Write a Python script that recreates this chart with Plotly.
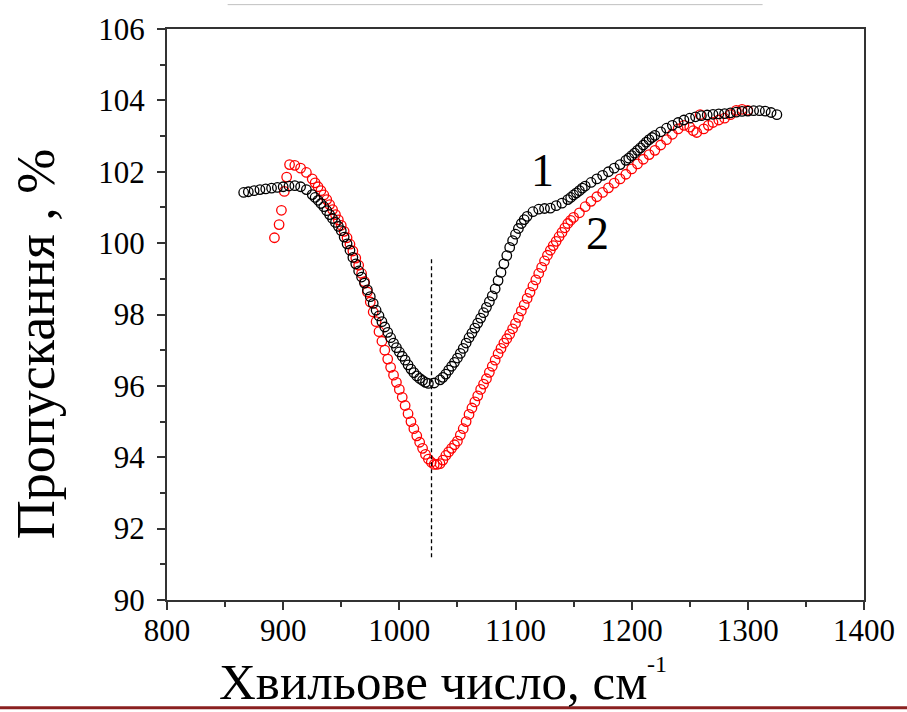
import plotly.graph_objects as go

# Series 1 (black)
bx = [866,870,875,880,885,890,895,900,905,910,
      915,920,925,927.5,930,932.5,935,937.5,940,942.5,
      945,947.5,950,952.5,955,957.5,960,962.5,965,967.5,
      970,972.5,975,977.5,980,982.5,985,987.5,990,992.5,
      995,997.5,1000,1002.5,1005,1007.5,1010,1012.5,1015,1017.5,
      1020,1022.5,1025,1030,1035,1037.5,1040,1042.5,1045,1047.5,
      1050,1052.5,1055,1057.5,1060,1062.5,1065,1067.5,1070,1072.5,
      1075,1077.5,1080,1082.5,1085,1087.5,1090,1092.5,1095,1097.5,
      1100,1102.5,1105,1107.5,1110,1115,1120,1125,1130,1135,
      1140,1145,1147.5,1150,1152.5,1155,1157.5,1160,1165,1170,
      1175,1180,1185,1190,1195,1197.5,1200,1202.5,1205,1207.5,
      1210,1212.5,1215,1217.5,1220,1225,1230,1235,1240,1245,
      1250,1255,1260,1265,1270,1275,1280,1285,1290,1295,
      1300,1305,1310,1315,1320,1325]
by = [101.42,101.44,101.47,101.50,101.52,101.54,101.56,101.58,101.60,101.61,
      101.58,101.50,101.36,101.28,101.20,101.11,101.02,100.91,100.80,100.69,
      100.58,100.47,100.35,100.17,99.98,99.80,99.60,99.42,99.22,99.05,
      98.88,98.69,98.50,98.31,98.12,97.96,97.80,97.65,97.50,97.35,
      97.20,97.07,96.95,96.83,96.72,96.59,96.47,96.37,96.28,96.21,
      96.15,96.10,96.07,96.08,96.17,96.24,96.33,96.44,96.55,96.66,
      96.78,96.91,97.05,97.20,97.35,97.48,97.62,97.76,97.90,98.05,
      98.20,98.36,98.52,98.72,98.95,99.18,99.42,99.65,99.88,100.07,
      100.25,100.41,100.55,100.66,100.75,100.88,100.95,100.97,100.98,101.05,
      101.12,101.22,101.28,101.35,101.41,101.47,101.54,101.60,101.70,101.80,
      101.90,102.00,102.10,102.20,102.32,102.38,102.45,102.52,102.60,102.67,
      102.75,102.83,102.90,102.96,103.02,103.12,103.22,103.30,103.38,103.45,
      103.50,103.54,103.57,103.59,103.61,103.62,103.63,103.65,103.67,103.69,
      103.70,103.71,103.71,103.70,103.66,103.60]

# Series 2 (red)
rx = [892.5,896.5,898.5,901,903,905.5,910,915,920,925,
      927.5,930,932.5,935,937.5,940,942.5,945,947.5,950,
      952.5,955,957.5,960,962.5,965,967.5,970,972.5,975,
      977.5,980,982.5,985,987.5,990,992.5,995,997.5,1000,
      1002.5,1005,1007.5,1010,1012.5,1015,1017.5,1020,1022.5,1025,
      1027.5,1030,1032.5,1035,1037.5,1040,1042.5,1045,1047.5,1050,
      1052.5,1055,1057.5,1060,1062.5,1065,1067.5,1070,1072.5,1075,
      1077.5,1080,1082.5,1085,1087.5,1090,1092.5,1095,1097.5,1100,
      1102.5,1105,1107.5,1110,1112.5,1115,1117.5,1120,1122.5,1125,
      1127.5,1130,1132.5,1135,1137.5,1140,1142.5,1145,1147.5,1150,
      1155,1160,1165,1170,1175,1180,1185,1190,1195,1200,
      1205,1210,1215,1220,1225,1230,1235,1240,1245,1250,
      1253,1256,1259,1262,1266,1270,1275,1280,1285,1290,
      1295,1300]
ry = [100.15,100.52,100.92,101.45,101.85,102.20,102.18,102.10,101.98,101.80,
      101.69,101.58,101.47,101.35,101.22,101.08,100.94,100.80,100.65,100.50,
      100.33,100.15,99.97,99.78,99.58,99.38,99.15,98.92,98.63,98.35,
      98.07,97.80,97.52,97.25,97.00,96.75,96.52,96.30,96.10,95.90,
      95.68,95.45,95.22,95.00,94.80,94.60,94.42,94.25,94.08,93.95,
      93.86,93.80,93.80,93.82,93.92,94.05,94.15,94.25,94.35,94.45,
      94.62,94.80,95.00,95.20,95.38,95.55,95.72,95.90,96.05,96.20,
      96.38,96.55,96.72,96.90,97.05,97.20,97.32,97.45,97.60,97.75,
      97.92,98.10,98.27,98.45,98.62,98.80,98.97,99.15,99.32,99.50,
      99.66,99.80,99.93,100.05,100.18,100.30,100.43,100.55,100.64,100.72,
      100.85,101.02,101.17,101.30,101.42,101.55,101.68,101.80,101.93,102.08,
      102.22,102.35,102.48,102.60,102.75,102.90,103.05,103.20,103.30,103.25,
      103.15,103.10,103.60,103.20,103.30,103.38,103.45,103.50,103.60,103.72,
      103.75,103.72]

x_ticks = [800, 900, 1000, 1100, 1200, 1300, 1400]
y_ticks = [90, 92, 94, 96, 98, 100, 102, 104, 106]
marker_x = 1027.7
marker_y = [91.2, 99.6]
curve_labels = ["1", "2"]
label_x = [1123.5, 1170.6]
label_y = [102.04, 100.26]

FONT = "Liberation Serif"

fig = go.Figure()
fig.add_trace(go.Scatter(x=rx, y=ry, mode="markers",
                         marker=dict(symbol="circle-open", size=9.5, color="#ff0000",
                                     line=dict(width=1.3, color="#ff0000")),
                         showlegend=False))
fig.add_trace(go.Scatter(x=bx, y=by, mode="markers",
                         marker=dict(symbol="circle-open", size=9.5, color="#000000",
                                     line=dict(width=1.3, color="#000000")),
                         showlegend=False))
fig.add_trace(go.Scatter(x=[marker_x, marker_x], y=marker_y, mode="lines",
                         line=dict(color="#000000", width=1.3, dash="4px,3px"),
                         showlegend=False))

for t, lx, ly in zip(curve_labels, label_x, label_y):
    fig.add_annotation(x=lx, y=ly, text=t, showarrow=False,
                       font=dict(family=FONT, size=46, color="#000000"),
                       xanchor="center", yanchor="middle")

# axis titles
fig.add_annotation(xref="paper", yref="paper", x=0.0713, y=-0.143,
                   text="Хвильове число, см", showarrow=False,
                   font=dict(family=FONT, size=51, color="#000000"),
                   xanchor="left", yanchor="middle")
fig.add_annotation(xref="paper", yref="paper", x=(660-167)/701, y=-0.112,
                   text="-1", showarrow=False,
                   font=dict(family=FONT, size=24, color="#000000"),
                   xanchor="center", yanchor="middle")
fig.add_annotation(xref="paper", yref="paper", x=-0.188, y=0.448,
                   text="Пропускання , %", showarrow=False, textangle=-90,
                   font=dict(family=FONT, size=54, color="#000000"),
                   xanchor="center", yanchor="middle")

# decorative lines (page borders)
fig.add_shape(type="line", xref="paper", yref="paper", x0=-0.25, x1=1.07,
              y0=-0.1885, y1=-0.1885, line=dict(color="#8b2020", width=3))
fig.add_shape(type="line", xref="paper", yref="paper", x0=(228-167)/701, x1=(766-167)/701,
              y0=(600-1.5)/574, y1=(600-1.5)/574, line=dict(color="#c0c0c0", width=1))

axis_common = dict(showline=True, linecolor="#333333", linewidth=2, mirror=True,
                   ticks="outside", ticklen=8, tickwidth=1.5, tickcolor="#333333",
                   showgrid=False, zeroline=False,
                   tickfont=dict(family=FONT, size=31, color="#000000"))

fig.update_xaxes(range=[800, 1400], tickvals=x_ticks, ticktext=[str(v) for v in x_ticks],
                 minor=dict(ticks="outside", ticklen=5, dtick=50, tick0=800,
                            tickcolor="#333333", tickwidth=1.5),
                 ticklabelstandoff=-6, **axis_common)
fig.update_yaxes(range=[90, 106], tickvals=y_ticks, ticktext=[str(v) for v in y_ticks],
                 minor=dict(ticks="outside", ticklen=5, dtick=1, tick0=90,
                            tickcolor="#333333", tickwidth=1.5),
                 ticklabelstandoff=6, **axis_common)

fig.update_layout(width=907, height=712,
                  margin=dict(l=167, r=39, t=26, b=112),
                  paper_bgcolor="white", plot_bgcolor="white")

fig.write_html("out.html")
